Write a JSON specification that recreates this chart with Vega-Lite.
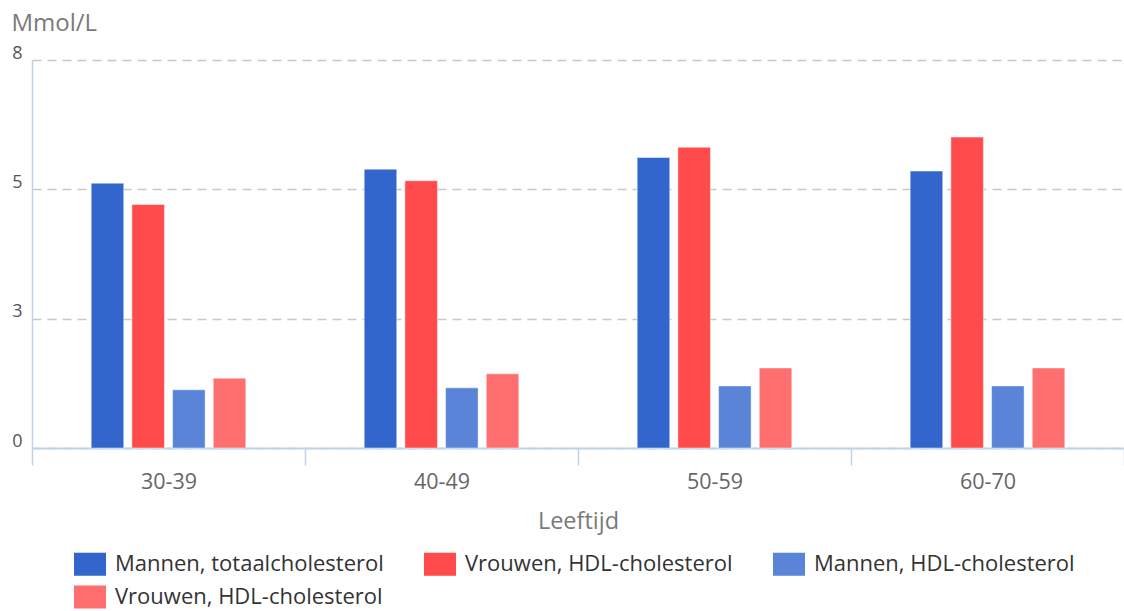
{
  "$schema": "https://vega.github.io/schema/vega-lite/v6.json",
  "autosize": {"type": "none"},
  "padding": {"left": 32, "top": 60, "right": 0, "bottom": 163},
  "width": 1092,
  "height": 388,
  "background": "#ffffff",
  "config": {
    "view": {"stroke": null},
    "font": "Open Sans"
  },
  "data": {
    "values": [
      {"leeftijd": "30-39", "reeks": "Mannen, totaalcholesterol", "waarde": 5.46},
      {"leeftijd": "30-39", "reeks": "Vrouwen, totaalcholesterol", "waarde": 5.02},
      {"leeftijd": "30-39", "reeks": "Mannen, HDL-cholesterol", "waarde": 1.2},
      {"leeftijd": "30-39", "reeks": "Vrouwen, HDL-cholesterol", "waarde": 1.44},
      {"leeftijd": "40-49", "reeks": "Mannen, totaalcholesterol", "waarde": 5.75},
      {"leeftijd": "40-49", "reeks": "Vrouwen, totaalcholesterol", "waarde": 5.51},
      {"leeftijd": "40-49", "reeks": "Mannen, HDL-cholesterol", "waarde": 1.24},
      {"leeftijd": "40-49", "reeks": "Vrouwen, HDL-cholesterol", "waarde": 1.53},
      {"leeftijd": "50-59", "reeks": "Mannen, totaalcholesterol", "waarde": 5.99},
      {"leeftijd": "50-59", "reeks": "Vrouwen, totaalcholesterol", "waarde": 6.2},
      {"leeftijd": "50-59", "reeks": "Mannen, HDL-cholesterol", "waarde": 1.28},
      {"leeftijd": "50-59", "reeks": "Vrouwen, HDL-cholesterol", "waarde": 1.65},
      {"leeftijd": "60-70", "reeks": "Mannen, totaalcholesterol", "waarde": 5.71},
      {"leeftijd": "60-70", "reeks": "Vrouwen, totaalcholesterol", "waarde": 6.41},
      {"leeftijd": "60-70", "reeks": "Mannen, HDL-cholesterol", "waarde": 1.28},
      {"leeftijd": "60-70", "reeks": "Vrouwen, HDL-cholesterol", "waarde": 1.65}
    ]
  },
  "mark": {"type": "bar", "stroke": "#ffffff", "strokeWidth": 1, "strokeOpacity": 0.45},
  "encoding": {
    "x": {
      "field": "leeftijd",
      "type": "nominal",
      "scale": {"paddingInner": 0, "paddingOuter": 0},
      "axis": {
        "title": "Leeftijd",
        "labelAngle": 0,
        "tickBand": "extent",
        "tickSize": 17,
        "tickColor": "#c2d3e6",
        "tickWidth": 1.5,
        "domainColor": "#c2d3e6",
        "domainWidth": 2,
        "labelFont": "Open Sans",
        "labelFontSize": 21.5,
        "labelColor": "#666666",
        "labelBaseline": "alphabetic",
        "labelPadding": 23,
        "titleFont": "Open Sans",
        "titleFontSize": 23.5,
        "titleFontWeight": "normal",
        "titleColor": "#7a7a7a",
        "titleBaseline": "alphabetic",
        "titleY": 80,
        "grid": false
      }
    },
    "xOffset": {
      "field": "reeks",
      "type": "nominal",
      "scale": {
        "domain": ["_voor", "Mannen, totaalcholesterol", "Vrouwen, totaalcholesterol", "Mannen, HDL-cholesterol", "Vrouwen, HDL-cholesterol", "_na"],
        "paddingInner": 0.2,
        "paddingOuter": 0.455
      }
    },
    "y": {
      "field": "waarde",
      "type": "quantitative",
      "scale": {"domain": [0, 8], "nice": false},
      "axis": {
        "title": "Mmol/L",
        "titleAngle": 0,
        "titleAlign": "left",
        "titleBaseline": "alphabetic",
        "titleX": -21,
        "titleY": -30,
        "titleFont": "Open Sans",
        "titleFontSize": 24,
        "titleFontWeight": "normal",
        "titleColor": "#7a7a7a",
        "values": [0, 2.6667, 5.3333, 8],
        "format": ".0f",
        "labelFont": "Open Sans",
        "labelFontSize": 18,
        "labelColor": "#555555",
        "labelAlign": "right",
        "labelBaseline": "alphabetic",
        "labelOffset": -2,
        "labelPadding": 10,
        "ticks": false,
        "domainColor": "#c2d3e6",
        "domainWidth": 1.5,
        "gridColor": "#c8c8c8",
        "gridDash": [9, 6],
        "gridWidth": 1.5
      }
    },
    "color": {
      "field": "reeks",
      "type": "nominal",
      "scale": {
        "domain": ["Mannen, totaalcholesterol", "Vrouwen, totaalcholesterol", "Mannen, HDL-cholesterol", "Vrouwen, HDL-cholesterol"],
        "range": ["#3366cc", "#ff4b4b", "#5a84d8", "#ff6f6f"]
      },
      "legend": {
        "title": null,
        "orient": "none",
        "legendX": 42,
        "legendY": 488,
        "direction": "horizontal",
        "columns": 3,
        "columnPadding": 40,
        "rowPadding": 5,
        "symbolType": "M-1,-0.72H1V0.72H-1Z",
        "symbolSize": 1024,
        "symbolStrokeWidth": 0,
        "symbolOpacity": 1,
        "labelFont": "Open Sans",
        "labelFontSize": 22,
        "labelColor": "#333333",
        "labelOffset": 9,
        "labelLimit": 500,
        "labelExpr": "datum.label == 'Vrouwen, totaalcholesterol' ? 'Vrouwen, HDL-cholesterol' : datum.label"
      }
    }
  }
}
